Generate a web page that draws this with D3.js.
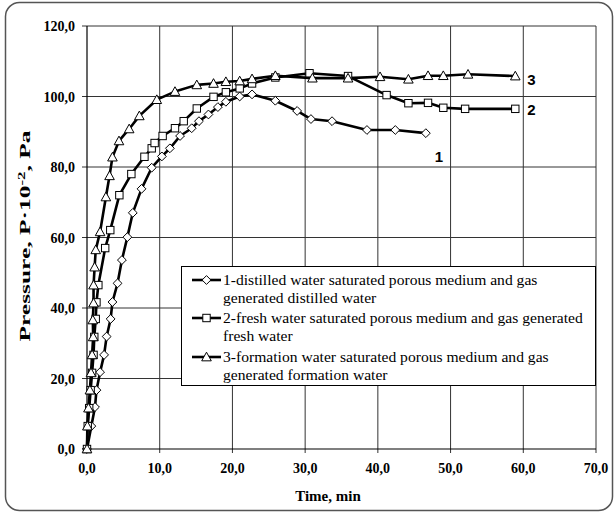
<!DOCTYPE html>
<html><head><meta charset="utf-8">
<script src="https://cdn.jsdelivr.net/npm/d3@7"></script>
<style>body{margin:0;background:#fff}svg{display:block}
.serif{font-family:"Liberation Serif","Times New Roman",Times,"DejaVu Serif",serif}
.sans{font-family:"Liberation Sans",Arial,Helvetica,sans-serif}
</style>
</head><body>
<svg id="c" width="614" height="512"></svg>
<script>
const xTicks = [0,10,20,30,40,50,60,70];
const yTicks = [0,20,40,60,80,100,120];
const fmt = v => v.toFixed(1).replace('.', ',');

const t1 = [0,0.6,1.1,1.3,1.8,2.35,2.7,3.25,3.5,4.2,4.8,5.55,6.3,7.5,8.9,10.3,11.4,12.8,14.4,15.4,16.7,18.0,19.1,21.0,22.7,25.9,28.9,30.8,33.7,38.5,42.4,46.6];
const p1 = [0,6.5,11.9,16.7,21.8,26.7,31.9,36.9,41.7,47,53.6,60.1,67,73.8,79.8,83,85.3,88.8,91,93,94.9,97,98.5,100,100.6,98.8,95.9,93.6,93.0,90.5,90.5,89.6];

const t2 = [0,0.1,0.3,0.5,0.7,0.9,1.0,1.2,1.3,1.56,2.5,3.2,4.45,6.1,7.9,8.9,9.3,10.4,12.1,13.3,15.1,17.4,19.1,21.0,22.7,25.9,30.6,35.9,41.2,44.2,46.9,49.0,52.0,58.9];
const p2 = [0,6.5,11.6,16.7,21.6,26.7,31.8,36.9,41.6,46.5,57,62.1,72,78,82.9,85.3,86.8,88.8,91,93,96.6,99.9,101.2,102.3,103.7,105.4,106.6,105.8,100.4,98.1,98.2,96.8,96.5,96.5];

const t3 = [0,0.05,0.2,0.4,0.55,0.7,0.85,0.8,0.9,0.9,1.05,1.2,1.8,2.6,3.1,3.5,4.4,5.8,7.2,9.6,12.1,15.1,17.4,19.1,21.0,22.7,25.9,31.0,35.9,40.3,44.2,46.9,49.0,52.4,58.9];
const p3 = [0,6.5,11.6,16.7,21.6,26.7,31.8,36.6,41.4,46.5,51.6,56.5,61.6,71.5,77.5,82.8,87.4,90.8,94.5,99.1,101.4,103.3,103.7,104.2,104.4,105.0,105.9,105.2,105.2,105.6,104.9,105.9,105.9,106.3,105.8];

const seriesNames = [
  ["1-distilled water saturated porous medium and gas", "generated distilled water"],
  ["2-fresh water saturated porous medium and gas generated", "fresh water"],
  ["3-formation water saturated porous medium and gas", "generated formation water"]
];
const endLabels = ["1","2","3"];

const svg = d3.select("#c");
const x = d3.scaleLinear().domain([0,70]).range([87,596]);
const y = d3.scaleLinear().domain([0,120]).range([449,26]);

// outer frame
svg.append("rect").attr("x",5.5).attr("y",2.5).attr("width",607).attr("height",508)
  .attr("rx",14).attr("fill","none").attr("stroke","#555").attr("stroke-width",1.5);

// grid
const g = svg.append("g");
g.selectAll(".vg").data(xTicks.slice(1)).join("line")
  .attr("x1",d=>x(d)).attr("x2",d=>x(d)).attr("y1",y(120)).attr("y2",y(0)+4)
  .attr("stroke","#333").attr("stroke-width",1);
g.selectAll(".hg").data(yTicks.slice(1)).join("line")
  .attr("x1",x(0)-5).attr("x2",x(70)).attr("y1",d=>y(d)).attr("y2",d=>y(d))
  .attr("stroke","#333").attr("stroke-width",1);
// axes
g.append("line").attr("x1",x(0)).attr("x2",x(70)).attr("y1",y(0)).attr("y2",y(0)).attr("stroke","#000").attr("stroke-width",1.2);
g.append("line").attr("x1",x(0)).attr("x2",x(0)).attr("y1",y(0)).attr("y2",y(120)).attr("stroke","#000").attr("stroke-width",1.2);
g.append("line").attr("x1",x(0)-5).attr("x2",x(0)).attr("y1",y(0)).attr("y2",y(0)).attr("stroke","#000");
g.append("line").attr("x1",x(0)).attr("x2",x(0)).attr("y1",y(0)).attr("y2",y(0)+4).attr("stroke","#000");

g.selectAll(".yl").data(yTicks).join("text").attr("class","serif")
  .attr("x",75).attr("y",d=>y(d)+5).attr("text-anchor","end")
  .attr("font-weight","bold").attr("font-size",14).text(fmt);
g.selectAll(".xl").data(xTicks).join("text").attr("class","serif")
  .attr("x",d=>x(d)).attr("y",473).attr("text-anchor","middle")
  .attr("font-weight","bold").attr("font-size",14).text(fmt);

svg.append("text").attr("class","serif").attr("x",328).attr("y",501).attr("text-anchor","middle")
  .attr("font-weight","bold").attr("font-size",15).text("Time, min");
const ytg = svg.append("g").attr("transform","translate(30,236) rotate(-90)");
const ytIn = ytg.append("g");
const yt = ytIn.append("text").attr("class","serif").attr("text-anchor","middle")
  .attr("font-weight","bold").attr("font-size",15);
yt.append("tspan").text("Pressure, P·10");
yt.append("tspan").attr("font-size",10).attr("dy",-5).text("-2");
yt.append("tspan").attr("dy",5).text(", Pa");
const ytw = yt.node().getBBox().width;
ytIn.attr("transform",`scale(${212/ytw},1)`);

// symbols
function marker(sel, type, cx, cy){
  if(type===0){ // diamond
    const s=4.4;
    sel.append("path").attr("d",`M${cx},${cy-s}L${cx+s},${cy}L${cx},${cy+s}L${cx-s},${cy}Z`)
      .attr("fill","#fff").attr("stroke","#000").attr("stroke-width",1);
  } else if(type===1){
    const s=3.7;
    sel.append("rect").attr("x",cx-s).attr("y",cy-s).attr("width",2*s).attr("height",2*s)
      .attr("fill","#fff").attr("stroke","#000").attr("stroke-width",1);
  } else {
    const s=4.8;
    sel.append("path").attr("d",`M${cx},${cy-s}L${cx+s},${cy+s*0.8}L${cx-s},${cy+s*0.8}Z`)
      .attr("fill","#fff").attr("stroke","#000").attr("stroke-width",1);
  }
}

const series = [[t1,p1],[t2,p2],[t3,p3]];
const line = d3.line().x(d=>x(d[0])).y(d=>y(d[1]));
series.forEach(([ts,ps],i)=>{
  const pts = ts.map((t,k)=>[t,ps[k]]);
  svg.append("path").attr("d",line(pts)).attr("fill","none").attr("stroke","#000")
    .attr("stroke-width",2.6).attr("stroke-linejoin","round");
});
series.forEach(([ts,ps],i)=>{
  const mg = svg.append("g");
  ts.forEach((t,k)=>marker(mg,i,x(t),y(ps[k])));
});

// end labels
const lastIdx = [p1.length-1,p2.length-1,p3.length-1];
svg.append("text").attr("class","sans").attr("x",x(46.6)+9).attr("y",162).attr("font-weight","bold").attr("font-size",15).text(endLabels[0]);
svg.append("text").attr("class","sans").attr("x",x(58.9)+12).attr("y",y(p2[lastIdx[1]])+6).attr("font-weight","bold").attr("font-size",15).text(endLabels[1]);
svg.append("text").attr("class","sans").attr("x",x(58.9)+12).attr("y",y(p3[lastIdx[2]])+9).attr("font-weight","bold").attr("font-size",15).text(endLabels[2]);

// legend
const lg = svg.append("g");
lg.append("rect").attr("x",181.5).attr("y",266.5).attr("width",414).attr("height",119)
  .attr("fill","#fff").attr("stroke","#000").attr("stroke-width",1);
const rows = [280,318,357];
seriesNames.forEach((nm,i)=>{
  const yy = rows[i];
  lg.append("line").attr("x1",192).attr("x2",221).attr("y1",yy).attr("y2",yy).attr("stroke","#000").attr("stroke-width",2.6);
  marker(lg,i,206.5,yy);
  lg.append("text").attr("class","serif").attr("x",223).attr("y",yy+5).attr("font-size",15.6).text(nm[0]);
  lg.append("text").attr("class","serif").attr("x",223).attr("y",yy+23).attr("font-size",15.6).text(nm[1]);
});
</script>
</body></html>
